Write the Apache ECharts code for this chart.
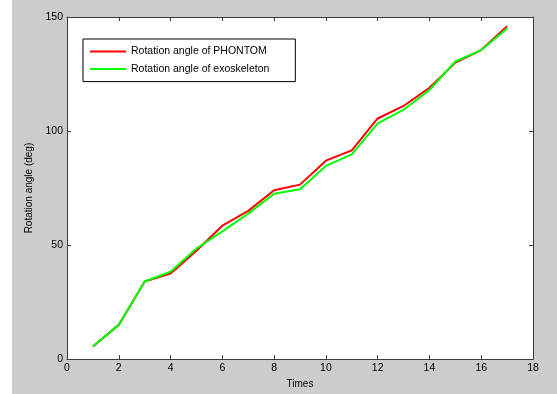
<!DOCTYPE html>
<html>
<head>
<meta charset="utf-8">
<script src="https://cdn.jsdelivr.net/npm/echarts@6/dist/echarts.min.js"></script>
<style>
html,body{margin:0;padding:0;background:#fff;}
#main{width:557px;height:394px;}
</style>
</head>
<body>
<div id="main"></div>
<script>
var times = [1,2,3,4,5,6,7,8,9,10,11,12,13,14,15,16,17];
var phontom = [5.5,15,34,37.5,47.5,58.5,65,74,76.5,87,91.5,105.5,111,119,130,135.5,146];
var exoskeleton = [5.5,15,34,38.3,48.5,56,63.8,72.5,74.5,84.7,89.8,103.4,109.3,118,130.5,135.5,145];
var xTicks = [0,2,4,6,8,10,12,14,16,18];
var yTicks = [0,50,100,150];
var seriesNames = ['Rotation angle of PHONTOM','Rotation angle of exoskeleton'];

function pairs(xs, ys){ return xs.map(function(x,i){ return [x, ys[i]]; }); }

var font = 'Liberation Sans';
var axisColor = '#3a3a3a';
var chart = echarts.init(document.getElementById('main'), null, {renderer:'canvas'});
var baseX = {
  type:'value', min:xTicks[0], max:xTicks[xTicks.length-1], interval:xTicks[1]-xTicks[0],
  axisLine:{show:true, onZero:false, lineStyle:{color:axisColor, width:1}},
  axisTick:{show:true, inside:true, length:4, lineStyle:{color:axisColor}},
  splitLine:{show:false}
};
var baseY = {
  type:'value', min:yTicks[0], max:yTicks[yTicks.length-1], interval:yTicks[1]-yTicks[0],
  axisLine:{show:true, onZero:false, lineStyle:{color:axisColor, width:1}},
  axisTick:{show:true, inside:true, length:4, lineStyle:{color:axisColor}},
  splitLine:{show:false}
};
chart.setOption({
  animation:false,
  backgroundColor:'#cccccc',
  graphic:[{type:'rect', left:0, top:0, shape:{width:12, height:394}, style:{fill:'#ffffff'}, z:-10, silent:true}],
  grid:{left:67, right:24, top:17, bottom:33, show:true, backgroundColor:'#ffffff', borderWidth:0},
  legend:{
    orient:'vertical', left:83, top:39,
    data:seriesNames,
    icon:'rect', itemWidth:36, itemHeight:2, itemGap:4.6,
    padding:[6,26,6,7],
    borderColor:'#000000', borderWidth:1, backgroundColor:'#ffffff',
    textStyle:{fontFamily:font, fontSize:10.5, color:'#000', lineHeight:13}
  },
  xAxis:[
    Object.assign({}, baseX, {
      position:'bottom',
      name:'Times', nameLocation:'middle', nameGap:17,
      nameTextStyle:{fontFamily:font, fontSize:10, color:'#000'},
      axisLabel:{fontFamily:font, fontSize:10.5, color:'#000', margin:4}
    }),
    Object.assign({}, baseX, {position:'top', axisLabel:{show:false}})
  ],
  yAxis:[
    Object.assign({}, baseY, {
      position:'left',
      name:'Rotation angle (deg)', nameLocation:'middle', nameGap:26, nameRotate:90,
      nameTextStyle:{fontFamily:font, fontSize:10, color:'#000'},
      axisLabel:{fontFamily:font, fontSize:10.5, color:'#000', margin:4}
    }),
    Object.assign({}, baseY, {position:'right', axisLabel:{show:false}})
  ],
  series:[
    {name:seriesNames[0], type:'line', data:pairs(times, phontom), showSymbol:false, symbol:'none',
     lineStyle:{color:'#ff0000', width:2}, itemStyle:{color:'#ff0000'}, z:2},
    {name:seriesNames[1], type:'line', data:pairs(times, exoskeleton), showSymbol:false, symbol:'none',
     lineStyle:{color:'#00ff00', width:2}, itemStyle:{color:'#00ff00'}, z:3}
  ]
});
</script>
</body>
</html>
